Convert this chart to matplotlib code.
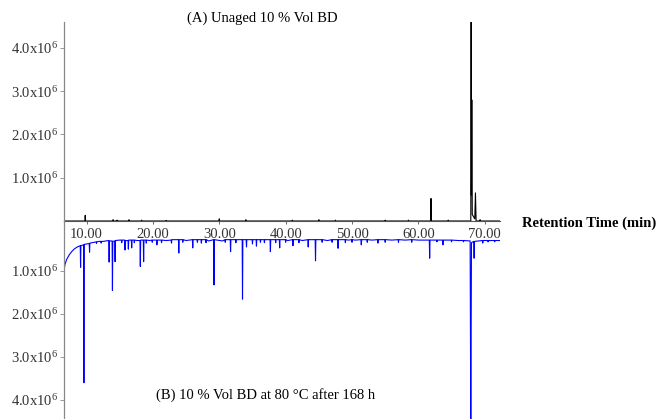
import numpy as np
import matplotlib.pyplot as plt

plt.rcParams['font.family'] = ['Liberation Serif', 'DejaVu Serif']
plt.rcParams['mathtext.fontset'] = 'custom'
plt.rcParams['mathtext.rm'] = 'Liberation Serif'
plt.rcParams['mathtext.it'] = 'Liberation Serif:italic'

# (A) unaged sample: retention time [min], abundance [x1e6]
t_a = [6.6, 9.75, 9.8, 9.85, 13.95, 14.0, 14.05, 14.55, 14.6, 14.65, 16.35, 16.4, 16.45,
       18.25, 18.3, 18.35, 21.95, 22.0, 22.05, 29.95, 30.0, 30.05, 33.95, 34.0, 34.05,
       40.95, 41.0, 41.05, 44.95, 45.0, 45.05, 47.45, 47.5, 47.55, 54.95, 55.0, 55.05,
       58.45, 58.5, 58.55, 61.85, 61.9, 61.95, 64.45, 64.5, 64.55, 67.9, 67.95, 68.0,
       68.05, 68.12, 68.5, 68.6, 68.7, 69.25, 69.3, 69.35, 72.3]
a_a = [0, 0, 0.13, 0, 0, 0.03, 0, 0, 0.02, 0, 0, 0.03, 0,
       0, 0.02, 0, 0, 0.015, 0, 0, 0.05, 0, 0, 0.03, 0,
       0, 0.02, 0, 0, 0.03, 0, 0, 0.02, 0, 0, 0.02, 0,
       0, 0.02, 0, 0, 0.52, 0, 0, 0.02, 0, 0, 4.65, 0.6,
       2.8, 0.15, 0.05, 0.65, 0, 0, 0.03, 0, 0]

# (B) 80 C after 168 h: retention time [min], abundance [x1e6] (drawn downward)
t_b = [6.6, 6.75, 7.0, 7.4, 7.8, 8.2, 8.6,
       9.05, 9.1, 9.15, 9.55, 9.6, 9.65, 10.4, 10.45, 10.5, 11.2,
       11.45, 11.5, 11.55, 11.9, 12.15, 12.2, 12.25, 12.5,
       13.35, 13.4, 13.45, 13.85, 13.9, 13.95, 14.25, 14.3, 14.35, 15.0,
       15.25, 15.3, 15.35, 15.75, 15.8, 15.85, 16.25, 16.3, 16.35, 16.75, 16.8, 16.85,
       17.15, 17.2, 17.25, 17.6, 18.05, 18.1, 18.15, 18.55, 18.6, 18.65,
       18.95, 19.0, 19.05, 19.5, 19.85, 19.9, 19.95, 20.55, 20.6, 20.65,
       21.25, 21.3, 21.35, 22.0, 22.75, 22.8, 22.85, 23.85, 23.9, 23.95,
       24.45, 24.5, 24.55, 25.0, 25.95, 26.0, 26.05, 26.65, 26.7, 26.75,
       27.25, 27.3, 27.35, 27.95, 28.0, 28.05, 28.4, 29.15, 29.2, 29.25,
       30.5, 30.85, 30.9, 30.95, 31.65, 31.7, 31.75, 32.45, 32.5, 32.55,
       33.45, 33.5, 33.55, 34.05, 34.1, 34.15, 34.95, 35.0, 35.05, 35.55, 35.6, 35.65,
       36.15, 36.2, 36.25, 36.75, 36.8, 36.85, 37.65, 37.7, 37.75, 38.45, 38.5, 38.55,
       39.05, 39.1, 39.15, 39.95, 40.0, 40.05, 40.3, 41.05, 41.1, 41.15,
       41.95, 42.0, 42.05, 42.5, 43.35, 43.4, 43.45, 44.45, 44.5, 44.55,
       45.45, 45.5, 45.55, 46.3, 46.95, 47.0, 47.05, 47.85, 47.9, 47.95,
       48.95, 49.0, 49.05, 49.5, 49.95, 50.0, 50.05, 50.5, 51.35, 51.4, 51.45,
       52.25, 52.3, 52.35, 53.0, 53.85, 53.9, 53.95, 54.95, 55.0, 55.05, 56.0,
       56.95, 57.0, 57.05, 58.0, 58.95, 59.0, 59.05, 60.0, 61.65, 61.7, 61.75,
       62.75, 62.8, 62.85, 63.65, 63.7, 63.75, 64.95, 65.0, 65.05, 66.0,
       66.75, 66.8, 66.85, 67.8, 67.9, 68.0, 68.35, 68.4, 68.45, 69.65, 69.7, 69.75,
       70.45, 70.5, 70.55, 71.45, 71.5, 71.55, 72.3]
a_b = [1.00, 0.85, 0.74, 0.63, 0.55, 0.49, 0.45,
       0.42, 0.92, 0.42, 0.40, 3.60, 0.39, 0.37, 0.57, 0.36, 0.34,
       0.33, 0.37, 0.33, 0.32, 0.32, 0.36, 0.32, 0.32,
       0.30, 0.80, 0.31, 0.31, 1.46, 0.32, 0.31, 0.79, 0.30, 0.29,
       0.29, 0.35, 0.29, 0.29, 0.52, 0.30, 0.30, 0.50, 0.29, 0.29, 0.47, 0.29,
       0.29, 0.35, 0.29, 0.30, 0.30, 0.90, 0.29, 0.29, 0.79, 0.29,
       0.29, 0.36, 0.29, 0.30, 0.29, 0.34, 0.29, 0.29, 0.40, 0.29,
       0.29, 0.35, 0.29, 0.30, 0.29, 0.36, 0.28, 0.28, 0.59, 0.28,
       0.28, 0.34, 0.28, 0.30, 0.28, 0.47, 0.28, 0.28, 0.34, 0.28,
       0.28, 0.36, 0.28, 0.28, 0.35, 0.28, 0.31, 0.28, 1.33, 0.28,
       0.31, 0.28, 0.34, 0.28, 0.28, 0.56, 0.28, 0.28, 0.35, 0.28,
       0.28, 1.66, 0.28, 0.28, 0.45, 0.28, 0.28, 0.38, 0.28, 0.28, 0.43, 0.28,
       0.28, 0.34, 0.28, 0.28, 0.35, 0.28, 0.28, 0.56, 0.28, 0.28, 0.35, 0.28,
       0.28, 0.47, 0.28, 0.28, 0.34, 0.28, 0.30, 0.28, 0.42, 0.28,
       0.28, 0.35, 0.28, 0.30, 0.28, 0.45, 0.28, 0.28, 0.77, 0.28,
       0.28, 0.34, 0.28, 0.30, 0.28, 0.34, 0.28, 0.28, 0.48, 0.28,
       0.28, 0.35, 0.28, 0.29, 0.28, 0.34, 0.28, 0.29, 0.28, 0.40, 0.28,
       0.28, 0.34, 0.28, 0.29, 0.28, 0.36, 0.28, 0.28, 0.34, 0.28, 0.29,
       0.28, 0.34, 0.28, 0.29, 0.28, 0.34, 0.28, 0.29, 0.29, 0.71, 0.29,
       0.29, 0.33, 0.29, 0.29, 0.40, 0.29, 0.29, 0.33, 0.29, 0.30,
       0.30, 0.33, 0.30, 0.31, 4.70, 0.35, 0.32, 0.71, 0.32, 0.30, 0.36, 0.30,
       0.30, 0.33, 0.30, 0.30, 0.33, 0.30, 0.30]

x_ticks = [10, 20, 30, 40, 50, 60, 70]
y_ticks = [1, 2, 3, 4]

W, H = 657, 419
fig = plt.figure(figsize=(W / 100, H / 100), dpi=100)
ax1 = fig.add_axes([64 / W, 198 / H, 436 / W, 199 / H])
ax2 = fig.add_axes([64 / W, 0, 436 / W, 198 / H])

ax1.plot(t_a, a_a, color='black', lw=0.8)
ax2.plot(t_b, a_b, color='#0000ff', lw=0.8)

ylabels = ['%.1fx10$^{6}$' % v for v in y_ticks]
for ax in (ax1, ax2):
    ax.set_xlim(6.6, 72.3)
    ax.set_yticks(y_ticks)
    ax.set_yticklabels(ylabels, fontsize=10.5, color='#333333')
    ax.tick_params(axis='y', length=3, width=0.6, color='#888888', pad=1)
    ax.spines['left'].set_color('#888888')
    ax.spines['left'].set_linewidth(0.9)
    ax.spines['top'].set_visible(False)
    ax.spines['right'].set_visible(False)
    ax.patch.set_visible(False)

ax1.set_ylim(0, 4.6)
ax1.set_xticks(x_ticks)
ax1.set_xticklabels(['%.2f' % v for v in x_ticks], fontsize=10.5, color='#333333')
ax1.tick_params(axis='x', length=2, width=0.6, color='#555555', pad=3)
ax1.spines['bottom'].set_color('#555555')
ax1.spines['bottom'].set_linewidth(0.8)

ax2.set_ylim(4.44, -0.153)
ax2.set_xticks([])
ax2.spines['bottom'].set_visible(False)

fig.text(262 / W, 1 - 18 / H, '(A) Unaged 10 % Vol BD', ha='center', va='center', fontsize=10.5)
fig.text(266 / W, 1 - 395 / H, '(B) 10 % Vol BD at 80 °C after 168 h', ha='center', va='center', fontsize=10.5)
fig.text(522 / W, 1 - 223 / H, 'Retention Time (min)', ha='left', va='center', fontsize=10.5, fontweight='bold')

fig.savefig('out.png', dpi=100)
